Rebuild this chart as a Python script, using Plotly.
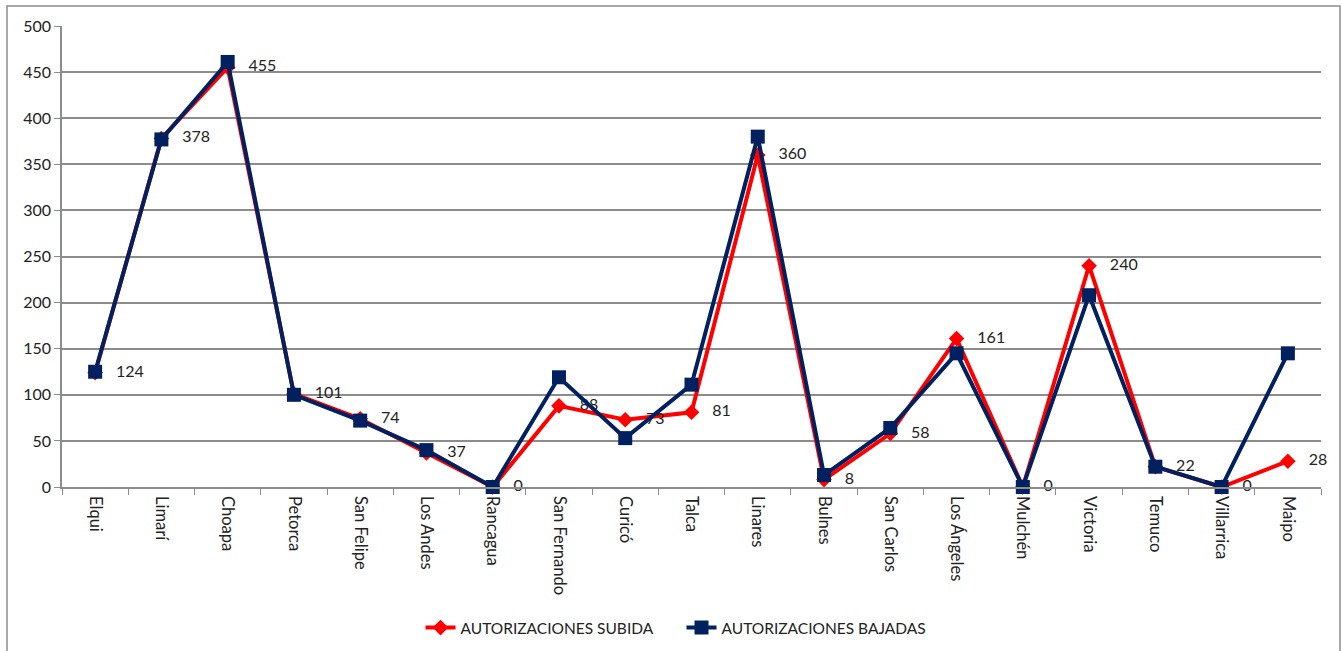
import plotly.graph_objects as go

categories = ["Elqui", "Limarí", "Choapa", "Petorca", "San Felipe", "Los Andes", "Rancagua",
              "San Fernando", "Curicó", "Talca", "Linares", "Bulnes", "San Carlos", "Los Ángeles",
              "Mulchén", "Victoria", "Temuco", "Villarrica", "Maipo"]
subida = [124, 378, 455, 101, 74, 37, 0, 88, 73, 81, 360, 8, 58, 161, 0, 240, 22, 0, 28]
bajadas = [125, 377, 461, 100, 72, 40, 0, 119, 53, 111, 380, 13, 64, 145, 0, 208, 22, 0, 145]
y_ticks = [0, 50, 100, 150, 200, 250, 300, 350, 400, 450, 500]

FONT = "Lato, Carlito, Calibri, sans-serif"

fig = go.Figure()
fig.add_trace(go.Scatter(
    x=categories, y=subida, name="AUTORIZACIONES SUBIDA" + "\u00a0" * 6,
    mode="lines+markers+text", text=["   " + str(v) for v in subida],
    textposition="middle right", textfont=dict(family=FONT, size=16, color="#222222"),
    line=dict(color="#FF0000", width=4),
    marker=dict(symbol="diamond", size=12, color="#FF0000"),
    cliponaxis=False,
))
fig.add_trace(go.Scatter(
    x=categories, y=bajadas, name="AUTORIZACIONES BAJADAS",
    mode="lines+markers",
    line=dict(color="#002060", width=4),
    marker=dict(symbol="square", size=14, color="#002060"),
    cliponaxis=False,
))

W, H = 1342, 651
L, R, T, B = 62, 21, 26, 164
pw, ph = W - L - R, H - T - B

def px2x(p):
    return (p - L) / pw

def py2y(p):
    return (H - B - p) / ph

fig.add_shape(type="rect", xref="paper", yref="paper",
              x0=px2x(7), x1=px2x(1340), y0=py2y(660), y1=py2y(6),
              line=dict(color="#8C8C8C", width=1.5), fillcolor="rgba(0,0,0,0)")

fig.update_layout(
    width=W, height=H,
    margin=dict(l=L, r=R, t=T, b=B, autoexpand=False),
    paper_bgcolor="white", plot_bgcolor="white",
    font=dict(family=FONT, size=16, color="#222222"),
    showlegend=True,
    legend=dict(orientation="h", x=px2x(676), xanchor="center", y=py2y(628), yanchor="middle",
                font=dict(family=FONT, size=15.5, color="#222222"),
                traceorder="normal"),
    xaxis=dict(
        type="category", tickangle=90, showgrid=False, automargin=False,
        showline=True, linecolor="#8C8C8C", linewidth=1.5,
        ticks="outside", tickson="boundaries", ticklen=6, tickcolor="#8C8C8C",
        ticklabelstandoff=4,
        tickfont=dict(family=FONT, size=16.5, color="#222222"),
        range=[-0.5, len(categories) - 0.5],
    ),
    yaxis=dict(
        range=[0, 500], tickvals=y_ticks, showgrid=True, gridcolor="#8C8C8C", gridwidth=1.5,
        showline=True, linecolor="#8C8C8C", linewidth=1.5, automargin=False,
        ticks="outside", ticklen=6, tickcolor="#8C8C8C",
        tickfont=dict(family=FONT, size=16, color="#222222"),
        zeroline=False,
    ),
)

fig.write_html("out.html", config={"displayModeBar": False},
               post_script="document.body.style.margin='0px';")
